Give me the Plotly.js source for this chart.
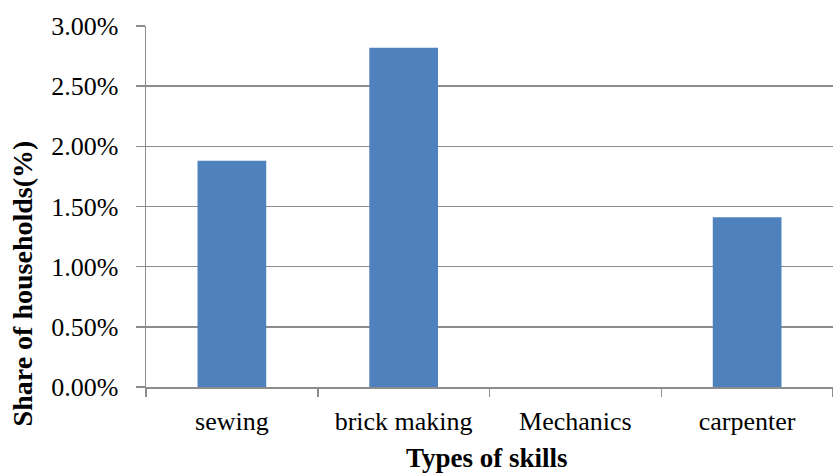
<!DOCTYPE html>
<html>
<head>
<meta charset="utf-8">
<script src="https://cdn.plot.ly/plotly-3.0.1.min.js"></script>
<style>
  html, body { margin: 0; padding: 0; background: #fff; }
  #chart { width: 833px; height: 473px; }
</style>
</head>
<body>
<div id="chart"></div>
<script>
// Share of households holding each type of skill
const skills = ["sewing", "brick making", "Mechanics", "carpenter"];
const shareOfHouseholds = [0.0188, 0.0282, 0, 0.0141];
const yTickValues = [0, 0.005, 0.01, 0.015, 0.02, 0.025, 0.03];

const axisGrey = "#8c8c8c";
const serif = "Liberation Serif, Times New Roman, serif";

const trace = {
  type: "bar",
  x: skills,
  y: shareOfHouseholds,
  marker: { color: "#4F81BD", line: { width: 0 } },
  hoverinfo: "skip"
};

const layout = {
  width: 833,
  height: 473,
  margin: { l: 146, r: 0, t: 26, b: 86 },
  paper_bgcolor: "#ffffff",
  plot_bgcolor: "#ffffff",
  bargap: 0.6,
  showlegend: false,
  font: { family: serif, color: "#000", size: 26 },
  xaxis: {
    type: "category",
    showgrid: false,
    showline: true,
    linecolor: axisGrey,
    linewidth: 1.5,
    ticks: "outside",
    tickson: "boundaries",
    ticklen: 8,
    tickcolor: axisGrey,
    tickwidth: 1.5,
    ticklabelstandoff: 10,
    tickfont: { family: serif, size: 26, color: "#000" },
    fixedrange: true
  },
  yaxis: {
    range: [0, 0.03],
    tickvals: yTickValues,
    tickformat: ".2%",
    showgrid: true,
    gridcolor: axisGrey,
    gridwidth: 1.5,
    zeroline: false,
    showline: true,
    linecolor: axisGrey,
    linewidth: 1.5,
    ticks: "outside",
    ticklen: 9,
    tickcolor: axisGrey,
    tickwidth: 1.5,
    ticklabelstandoff: 12,
    tickfont: { family: serif, size: 26, color: "#000" },
    fixedrange: true
  },
  annotations: [
    {
      text: "<b>Types of skills</b>",
      xref: "paper", yref: "paper",
      x: 0.497, y: -0.196,
      xanchor: "center", yanchor: "middle",
      showarrow: false,
      font: { family: serif, size: 27, color: "#000" }
    },
    {
      text: "<b>Share of households(%)</b>",
      xref: "paper", yref: "paper",
      x: -0.1805, y: 0.287,
      xanchor: "center", yanchor: "middle",
      textangle: -90,
      showarrow: false,
      font: { family: serif, size: 28, color: "#000" }
    }
  ]
};

Plotly.newPlot("chart", [trace], layout, { displayModeBar: false, staticPlot: true });
</script>
</body>
</html>
